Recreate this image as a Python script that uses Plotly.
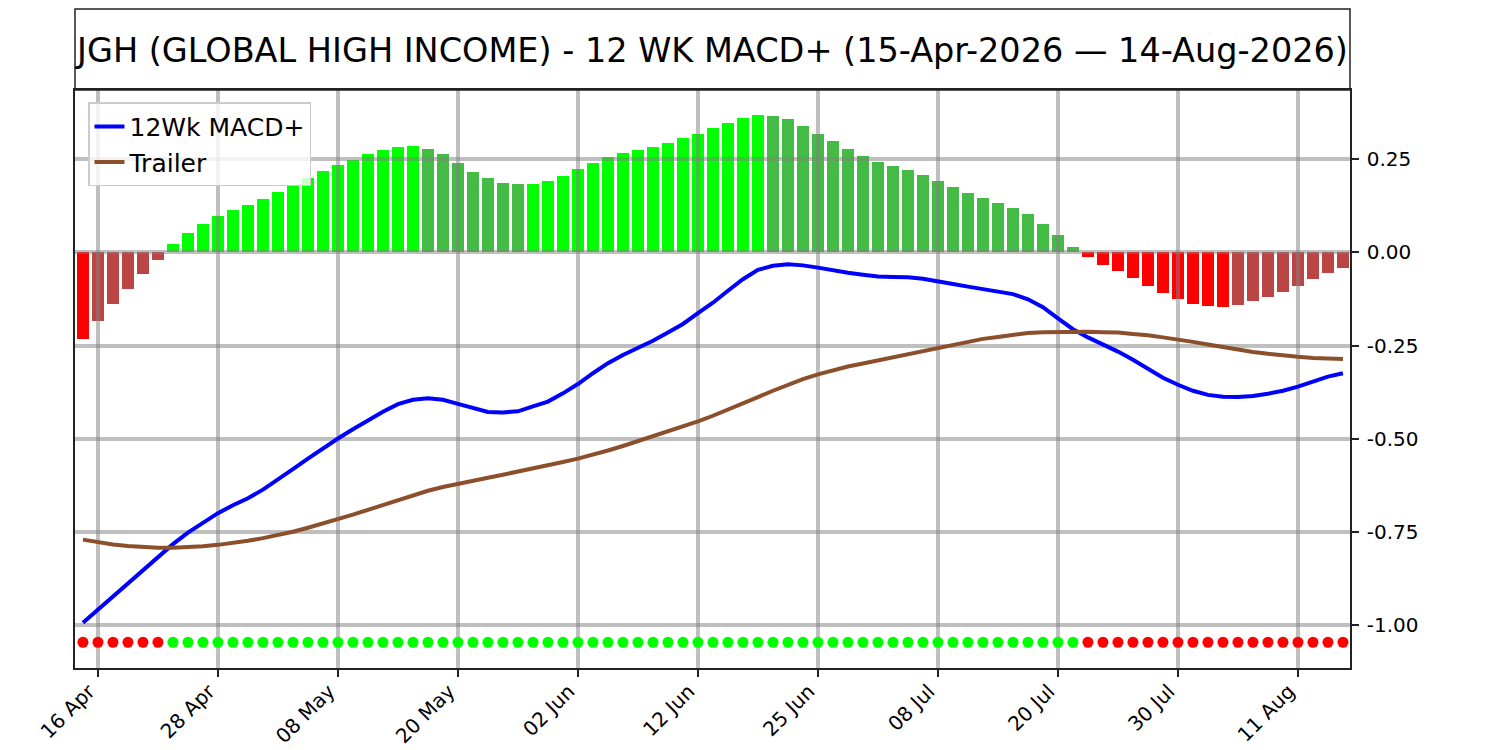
import plotly.graph_objects as go

# trading days shown (NYSE calendar, 2026)
apr_days = [15, 16, 17, 20, 21, 22, 23, 24, 27, 28, 29, 30]
may_days = [1, 4, 5, 6, 7, 8, 11, 12, 13, 14, 15, 18, 19, 20, 21, 22, 26, 27, 28, 29]
jun_days = [1, 2, 3, 4, 5, 8, 9, 10, 11, 12, 15, 16, 17, 18, 22, 23, 24, 25, 26, 29, 30]
jul_days = [1, 2, 6, 7, 8, 9, 10, 13, 14, 15, 16, 17, 20, 21, 22, 23, 24, 27, 28, 29, 30, 31]
aug_days = [3, 4, 5, 6, 7, 10, 11, 12, 13, 14]

dates = ([f"2026-04-{d:02d}" for d in apr_days] + [f"2026-05-{d:02d}" for d in may_days]
         + [f"2026-06-{d:02d}" for d in jun_days] + [f"2026-07-{d:02d}" for d in jul_days]
         + [f"2026-08-{d:02d}" for d in aug_days])

# histogram (MACD+ minus trailer, scaled)
histogram = [
    -0.233, -0.185, -0.138, -0.097, -0.057, -0.020, 0.022, 0.052, 0.076, 0.097,
    0.113, 0.127, 0.143, 0.161, 0.180, 0.199, 0.218, 0.234, 0.247, 0.263,
    0.274, 0.282, 0.285, 0.276, 0.263, 0.239, 0.215, 0.199, 0.185, 0.182,
    0.183, 0.191, 0.204, 0.223, 0.239, 0.255, 0.266, 0.274, 0.282, 0.292,
    0.306, 0.317, 0.333, 0.346, 0.359, 0.367, 0.365, 0.357, 0.338, 0.317,
    0.298, 0.276, 0.257, 0.241, 0.231, 0.220, 0.207, 0.191, 0.175, 0.159,
    0.146, 0.132, 0.119, 0.103, 0.076, 0.046, 0.014, -0.013, -0.033, -0.049,
    -0.068, -0.089, -0.108, -0.124, -0.138, -0.143, -0.146, -0.140, -0.130, -0.119,
    -0.105, -0.089, -0.071, -0.055, -0.041,
]

macd = [
    -0.993, -0.958, -0.922, -0.888, -0.853, -0.815, -0.782, -0.751, -0.724, -0.699,
    -0.678, -0.659, -0.636, -0.610, -0.581, -0.553, -0.525, -0.499, -0.474, -0.449,
    -0.427, -0.407, -0.395, -0.391, -0.395, -0.406, -0.418, -0.428, -0.429, -0.426,
    -0.413, -0.400, -0.378, -0.353, -0.324, -0.297, -0.275, -0.257, -0.237, -0.215,
    -0.192, -0.163, -0.135, -0.103, -0.072, -0.047, -0.036, -0.032, -0.035, -0.041,
    -0.049, -0.055, -0.060, -0.065, -0.066, -0.067, -0.071, -0.077, -0.085, -0.092,
    -0.099, -0.104, -0.112, -0.126, -0.147, -0.177, -0.206, -0.228, -0.246, -0.266,
    -0.288, -0.312, -0.336, -0.355, -0.371, -0.382, -0.387, -0.388, -0.385, -0.379,
    -0.371, -0.360, -0.346, -0.333, -0.324,
]

trailer = [
    -0.770, -0.777, -0.783, -0.787, -0.790, -0.792, -0.792, -0.791, -0.788, -0.784,
    -0.779, -0.773, -0.766, -0.758, -0.749, -0.738, -0.727, -0.715, -0.703, -0.690,
    -0.677, -0.663, -0.650, -0.639, -0.629, -0.620, -0.611, -0.604, -0.596, -0.588,
    -0.580, -0.571, -0.562, -0.553, -0.543, -0.531, -0.519, -0.506, -0.494, -0.480,
    -0.467, -0.453, -0.438, -0.422, -0.406, -0.388, -0.371, -0.355, -0.340, -0.327,
    -0.316, -0.306, -0.298, -0.290, -0.282, -0.274, -0.264, -0.256, -0.248, -0.240,
    -0.232, -0.227, -0.221, -0.216, -0.214, -0.213, -0.213, -0.213, -0.214, -0.215,
    -0.219, -0.222, -0.228, -0.233, -0.240, -0.247, -0.254, -0.261, -0.267, -0.272,
    -0.277, -0.280, -0.283, -0.285, -0.286,
]

signal_level = -1.045

tick_dates = dates[1::8]
tick_labels = ["16 Apr", "28 Apr", "08 May", "20 May", "02 Jun", "12 Jun",
               "25 Jun", "08 Jul", "20 Jul", "30 Jul", "11 Aug"]
y_ticks = [0.25, 0.0, -0.25, -0.5, -0.75, -1.0]
y_tick_labels = ["0.25", "0.00", "-0.25", "-0.50", "-0.75", "-1.00"]

FONT = "DejaVu Sans"
X_RANGE = [-0.53, 84.47]
Y_RANGE = [-1.114, 0.435]

# bar colours: bright while moving away from zero, muted while returning
bar_colors = []
for i, v in enumerate(histogram):
    prev = histogram[i - 1] if i > 0 else None
    if v >= 0:
        bar_colors.append("#00ff00" if prev is None or v >= prev else "#44bb44")
    else:
        bar_colors.append("#ff0000" if prev is None or v <= prev else "#bb4444")
dot_colors = ["#00ff00" if v >= 0 else "#ff0000" for v in histogram]

fig = go.Figure()

# bars sit on their own (lower) subplot so the grid of the upper one covers them
fig.add_trace(go.Bar(
    x=dates, y=histogram, marker=dict(color=bar_colors, line=dict(width=0)),
    width=0.75, showlegend=False, hoverinfo="x+y", xaxis="x", yaxis="y"))

fig.add_trace(go.Scatter(
    x=dates, y=macd, mode="lines", name="12Wk MACD+",
    line=dict(color="#0000ff", width=4), xaxis="x2", yaxis="y2"))

fig.add_trace(go.Scatter(
    x=dates, y=trailer, mode="lines", name="Trailer",
    line=dict(color="#8b4f2b", width=4), xaxis="x2", yaxis="y2"))

fig.add_trace(go.Scatter(
    x=dates, y=[signal_level] * len(dates), mode="markers",
    marker=dict(color=dot_colors, size=11), showlegend=False,
    xaxis="x2", yaxis="y2"))

grid = dict(showgrid=True, gridcolor="rgba(128,128,128,0.5)", gridwidth=4,
            zeroline=False, showline=True, mirror=True, linecolor="#222222",
            linewidth=1.5, ticks="outside", ticklen=7, tickwidth=1.5,
            tickcolor="#222222", layer="above traces", automargin=False)

fig.update_layout(
    width=1500, height=750,
    margin=dict(l=75, r=150, t=90, b=82),
    paper_bgcolor="white", plot_bgcolor="rgba(0,0,0,0)",
    font=dict(family=FONT, color="black"),
    title=dict(text="JGH (GLOBAL HIGH INCOME) - 12 WK MACD+ (15-Apr-2026 — 14-Aug-2026)",
               x=0.5, xref="paper", xanchor="center",
               y=1 - 50 / 750, yref="container", yanchor="middle",
               font=dict(family=FONT, size=33.5, color="black")),
    xaxis=dict(type="category", range=X_RANGE, domain=[0, 1], anchor="y",
               visible=False, automargin=False),
    yaxis=dict(range=Y_RANGE, domain=[0, 1], anchor="x", visible=False,
               automargin=False),
    xaxis2=dict(type="category", range=X_RANGE, domain=[0, 1], anchor="y2",
                tickmode="array", tickvals=tick_dates, ticktext=tick_labels,
                tickangle=-45, ticklabelshift=-9, ticklabelstandoff=-5,
                tickfont=dict(family=FONT, size=20, color="black"), **grid),
    yaxis2=dict(range=Y_RANGE, domain=[0, 1], anchor="x2", side="right",
                tickmode="array", tickvals=y_ticks, ticktext=y_tick_labels,
                ticklabelstandoff=4,
                tickfont=dict(family=FONT, size=20, color="black"), **grid),
    legend=dict(x=0.0102, y=0.979, xanchor="left", yanchor="top",
                bgcolor="rgba(255,255,255,0.8)", bordercolor="#cccccc",
                borderwidth=1.5, font=dict(family=FONT, size=25),
                itemwidth=30, tracegroupgap=0),
    bargap=0,
    showlegend=True,
)

# boxed title strip above the plot
fig.add_shape(type="rect", xref="paper", yref="paper",
              x0=0, x1=1, y0=1, y1=1 + 81 / 578,
              line=dict(color="#222222", width=1.5), fillcolor="rgba(0,0,0,0)")

# drop the default page margin so the figure fills the window exactly
fig.write_html("out.html", config={"displayModeBar": False},
               post_script="document.body.style.margin='0';")
